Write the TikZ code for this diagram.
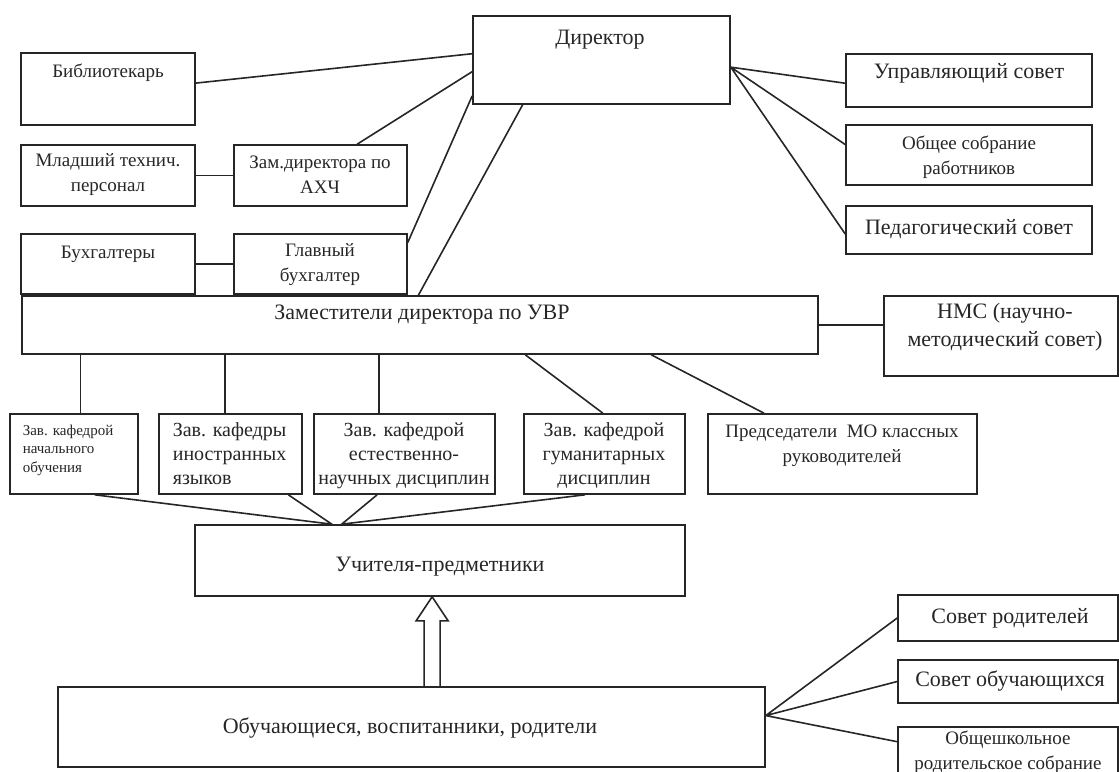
\documentclass[tikz,border=0pt]{standalone}
\usepackage{fontspec}
\setmainfont{Liberation Serif}
\usetikzlibrary{fit,calc}

\begin{document}
\begin{tikzpicture}[x=0.5pt, y=-0.5pt, line width=0.8pt, color=black!85,
    box/.style={draw, rectangle, inner sep=0pt, fit={#1}},
    big/.style={font=\fontsize{11}{14}\selectfont, align=center, inner sep=0pt},
    mid/.style={font=\fontsize{9.5}{12.5}\selectfont, align=center, inner sep=0pt},
    kaf/.style={font=\fontsize{10}{12}\selectfont, inner sep=0pt},
    sml/.style={font=\fontsize{7.5}{9.25}\selectfont, align=left, inner sep=0pt}]

        \useasboundingbox (0,0) rectangle (1119,771);

        \node[box={(473,16) (730,104)}] (dir) {};
        \node[big] at (600,40) {Директор};

        \node[box={(21,53) (195,125)}] (lib) {};
        \node[mid] at (108,73) {Библиотекарь};

        \node[box={(21,145) (195,206)}] (mlad) {};
        \node[mid] at (108,175) {Младший технич.\\персонал};

        \node[box={(234,145) (407,206)}] (ahc) {};
        \node[mid] at (320,175) {Зам.директора по\\АХЧ};

        \node[box={(21,234) (195,294)}] (buh) {};
        \node[mid] at (108,254) {Бухгалтеры};

        \node[box={(234,234) (407,294)}] (glav) {};
        \node[mid] at (320,265) {Главный\\бухгалтер};

        \node[box={(846,54) (1092,107)}] (us) {};
        \node[big] at (969,73) {Управляющий совет};

        \node[box={(846,125) (1092,185)}] (os) {};
        \node[mid] at (969,157) {Общее собрание\\работников};

        \node[box={(846,206) (1092,254)}] (ps) {};
        \node[big] at (969,229) {Педагогический совет};

        \node[box={(22,296) (818,354)}] (zam) {};
        \node[big] at (422,315) {Заместители директора по УВР};

        \node[box={(884,296) (1118,376)}] (nms) {};
        \node[big] at (1005,327) {НМС (научно-\\методический совет)};

        \node[box={(10,414) (138,494)}] (k1) {};
        \node[sml, anchor=north west] at (22,424) {Зав. кафедрой\\начального\\обучения};

        \node[box={(159,414) (302,494)}] (k2) {};
        \node[kaf, align=left, anchor=north west] at (172,422) {Зав. кафедры\\иностранных\\языков};

        \node[box={(314,414) (495,494)}] (k3) {};
        \node[kaf, align=center, anchor=north] at (404,422) {Зав. кафедрой\\естественно-\\научных дисциплин};

        \node[box={(524,414) (685,494)}] (k4) {};
        \node[kaf, align=center, anchor=north] at (604,422) {Зав. кафедрой\\гуманитарных\\дисциплин};

        \node[box={(708,414) (977,494)}] (k5) {};
        \node[mid, anchor=north] at (842,424) {Председатели~~МО классных\\руководителей};

        \node[box={(195,525) (685,596)}] (uch) {};
        \node[big] at (440,567) {Учителя-предметники};

        \node[box={(58,687) (765,767)}] (obu) {};
        \node[big] at (410,728) {Обучающиеся, воспитанники, родители};

        \node[box={(898,595) (1118,641)}] (sr) {};
        \node[big] at (1010,618) {Совет родителей};

        \node[box={(898,660) (1118,703)}] (so) {};
        \node[big] at (1010,681) {Совет обучающихся};

        \node[box={(898,727) (1118,790)}] (osr) {};
        \node[mid] at (1008,752) {Общешкольное\\родительское собрание};

        \draw ($(lib.north east)!0.42!(lib.south east)$) -- ($(dir.north west)!0.43!(dir.south west)$);
        \draw ($(ahc.north west)!0.71!(ahc.north east)$) -- ($(dir.north west)!0.63!(dir.south west)$);
        \draw ($(glav.north east)!0.15!(glav.south east)$) -- ($(dir.north west)!0.9!(dir.south west)$);
        \draw (mlad) -- (ahc);
        \draw (buh) -- (glav);
        \draw ($(dir.south west)!0.195!(dir.south east)$) -- ($(zam.north west)!0.498!(zam.north east)$);

        \draw ($(dir.north east)!0.58!(dir.south east)$) coordinate (df) -- ($(us.north west)!0.55!(us.south west)$)
              (df) -- ($(os.north west)!0.33!(os.south west)$)
              (df) -- ($(ps.north west)!0.58!(ps.south west)$);

        \draw (zam.east) -- (zam.east -| nms.west);

        \draw ($(k1.north west)!0.55!(k1.north east)$) coordinate (t1) -- (t1 |- zam.south);
        \draw ($(k2.north west)!0.46!(k2.north east)$) coordinate (t2) -- (t2 |- zam.south);
        \draw ($(k3.north west)!0.36!(k3.north east)$) coordinate (t3) -- (t3 |- zam.south);
        \draw ($(zam.south west)!0.632!(zam.south east)$) -- ($(k4.north west)!0.49!(k4.north east)$);
        \draw ($(zam.south west)!0.79!(zam.south east)$) -- ($(k5.north west)!0.21!(k5.north east)$);

        \draw ($(k1.south west)!0.66!(k1.south east)$) -- ($(uch.north west)!0.28!(uch.north east)$)
              -- ($(k2.south west)!0.9!(k2.south east)$);
        \draw ($(k3.south west)!0.35!(k3.south east)$) -- ($(uch.north west)!0.30!(uch.north east)$)
              -- ($(k4.south west)!0.38!(k4.south east)$);

        \path ($(uch.south west)!0.484!(uch.south east)$) coordinate (atip)
              (atip |- obu.north) coordinate (abot);
        \draw ($(abot)+(-8,0)$) -- ($(atip)+(-8,24)$) -- ($(atip)+(-16,24)$) -- (atip)
              -- ($(atip)+(16,24)$) -- ($(atip)+(8,24)$) -- ($(abot)+(8,0)$);

        \draw ($(obu.north east)!0.36!(obu.south east)$) coordinate (of) -- (sr.west)
              (of) -- (so.west)
              (of) -- ($(osr.north west)!0.24!(osr.south west)$);
    \end{tikzpicture}
\end{document}
